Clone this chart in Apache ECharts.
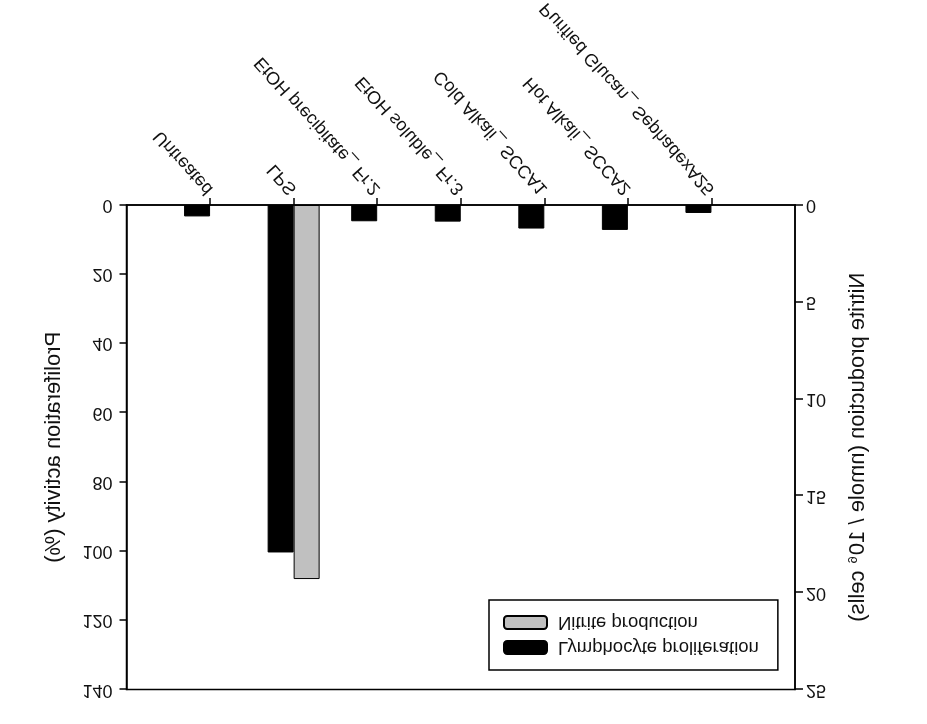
<!DOCTYPE html>
<html>
<head>
<meta charset="utf-8">
<script src="https://cdn.jsdelivr.net/npm/echarts@6/dist/echarts.min.js"></script>
<style>
html,body{margin:0;padding:0;background:#fff;}
#chart{width:927px;height:724px;transform:scaleY(-1);}
</style>
</head>
<body>
<div id="chart"></div>
<script>
// ---- data ----
const categories = ['Untreated', 'LPS', 'EtOH precipitate_ Fr.2', 'EtOH soluble_ Fr.3', 'Cold Alkali_ SCCA1', 'Hot Alkali_ SCCA2', 'Purified Glucan_ SephadexA25'];
const lymphocyteProliferation = [3.3, 100.4, 4.7, 4.8, 6.8, 7.2, 2.3];
const nitriteProduction = [null, 19.3, null, null, null, null, null];
const leftTicks = {min: 0, max: 140, interval: 20};
const rightTicks = {min: 0, max: 25, interval: 5};
const seriesNames = ['Lymphocyte proliferation', 'Nitrite production'];

const FONT = '"Liberation Sans", Arial, sans-serif';
const axisCats = [''].concat(categories, ['']);
const pad = arr => [null].concat(arr, [null]);

const chart = echarts.init(document.getElementById('chart'), null, {renderer: 'canvas'});
chart.setOption({
  animation: false,
  backgroundColor: '#fff',
  textStyle: {fontFamily: FONT, color: '#111'},
  grid: {left: 126.5, right: 132, top: 34.5, bottom: 205, containLabel: false, outerBoundsMode: 'none',
    show: true, borderColor: '#000', borderWidth: 1.5, backgroundColor: 'transparent'},
  legend: {
    orient: 'vertical',
    left: 489, top: 54,
    width: 290,
    padding: [13, 19, 13, 14],
    itemGap: 6,
    itemWidth: 43, itemHeight: 13,
    icon: 'roundRect',
    borderColor: '#000', borderWidth: 1.5,
    data: seriesNames,
    textStyle: {fontFamily: FONT, fontSize: 18.5, color: '#111', padding: [0, 0, 0, 6]}
  },
  xAxis: {
    type: 'category',
    data: axisCats,
    boundaryGap: false,
    axisLine: {lineStyle: {color: '#000', width: 1.5}},
    axisTick: {length: 7, lineStyle: {color: '#000', width: 1.5}, interval: (i, v) => v !== ''},
    axisLabel: {interval: 0, rotate: 48, margin: 13, fontSize: 18, color: '#111', fontFamily: FONT, hideOverlap: false},
    splitLine: {show: false}
  },
  yAxis: [{
    type: 'value', min: leftTicks.min, max: leftTicks.max, interval: leftTicks.interval,
    position: 'left',
    name: 'Proliferation activity (%)', nameLocation: 'middle', nameRotate: 90, nameGap: 62,
    nameTextStyle: {fontSize: 22, color: '#111', fontFamily: FONT},
    axisLine: {show: true, lineStyle: {color: '#000', width: 1.5}},
    axisTick: {show: true, length: 7, lineStyle: {color: '#000', width: 1.5}},
    axisLabel: {fontSize: 18, margin: 14, color: '#111', fontFamily: FONT},
    splitLine: {show: false}
  }, {
    type: 'value', min: rightTicks.min, max: rightTicks.max, interval: rightTicks.interval,
    position: 'right',
    name: 'Nitrite production (nmole / 10{sup|6} cells)', nameLocation: 'middle', nameRotate: 90, nameGap: 52,
    nameTextStyle: {fontSize: 22, color: '#111', fontFamily: FONT,
      rich: {sup: {fontSize: 13, verticalAlign: 'top', color: '#111', fontFamily: FONT, padding: [0, 1, 8, 1]}}},
    axisLine: {show: true, lineStyle: {color: '#000', width: 1.5}},
    axisTick: {show: true, length: 8, lineStyle: {color: '#000', width: 1.5}},
    axisLabel: {fontSize: 18, margin: 11, color: '#111', fontFamily: FONT},
    splitLine: {show: false}
  }],
  series: [{
    name: seriesNames[0], type: 'bar', yAxisIndex: 0,
    data: pad(lymphocyteProliferation),
    barWidth: 26, barGap: '0%',
    itemStyle: {color: '#000', borderColor: '#000', borderWidth: 1}
  }, {
    name: seriesNames[1], type: 'bar', yAxisIndex: 1,
    data: pad(nitriteProduction),
    barWidth: 26, barGap: '0%',
    itemStyle: {color: '#c0c0c0', borderColor: '#000', borderWidth: 1}
  }]
});
</script>
</body>
</html>
